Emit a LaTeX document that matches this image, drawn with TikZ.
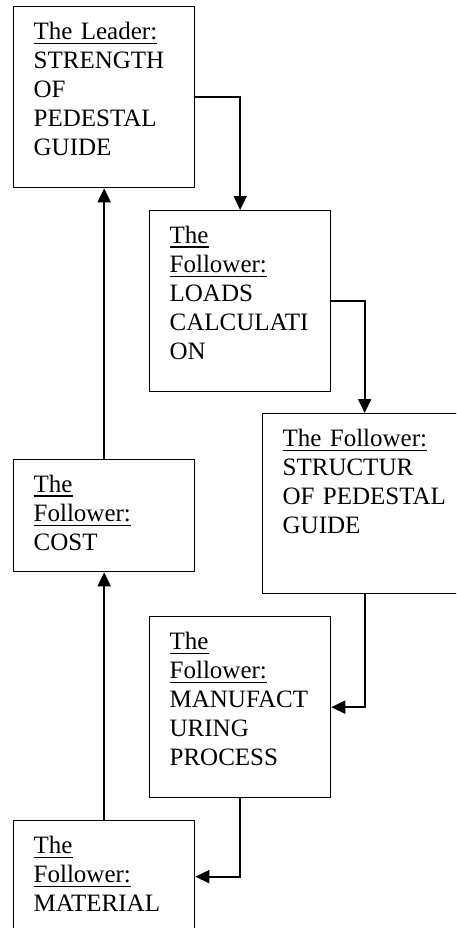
\documentclass[tikz,border=0pt]{standalone}
\usepackage{fontspec}
\setmainfont{Liberation Serif}
\usepackage{tikz}
\usetikzlibrary{arrows.meta}
\newcommand{\undl}[1]{\leavevmode\vtop{\hbox{#1}\kern2.6pt\hrule height 1.5pt}}
\tikzstyle{block} = [rectangle, draw=black, line width=1.3pt, anchor=north west, inner xsep=20pt, inner ysep=0pt, align=left, text height=33pt, font=\fontsize{25}{29}\selectfont]
\tikzstyle{arrow} = [line width=1.9pt, -{Triangle[length=14pt,width=13pt]}]

\begin{document}
\begin{tikzpicture}[x=1pt, y=-1pt]

	\useasboundingbox (0,0) rectangle (456,928);
	\clip (0,0) rectangle (456,928);

	\node (lead) [block, text width=141pt, text depth=148pt] at (13,6) {\undl{The Leader:}\\STRENGTH\\OF\\PEDESTAL\\GUIDE};
	\node (loads) [block, text width=141pt, text depth=148pt] at (149,210) {\undl{The}\\\undl{Follower:}\\LOADS\\CALCULATI\\ON};
	\node (struct) [block, text width=164pt, text depth=147pt] at (262,413) {\undl{The Follower:}\\STRUCTUR\\OF PEDESTAL\\GUIDE};
	\node (cost) [block, text width=141pt, text depth=79pt] at (13,459) {\undl{The}\\\undl{Follower:}\\COST};
	\node (manuf) [block, text width=141pt, text depth=148pt] at (149,616) {\undl{The}\\\undl{Follower:}\\MANUFACT\\URING\\PROCESS};
	\node (mat) [block, text width=141pt, text depth=79pt] at (13,820) {\undl{The}\\\undl{Follower:}\\MATERIAL};

	\draw [arrow] (lead.east) -| (loads.north);
	\draw [arrow] (loads.east) -| (struct.north);
	\draw [arrow] (struct.south) |- (manuf.east);
	\draw [arrow] (manuf.south) |- (mat.east);
	\draw [arrow] (mat.north) -- (cost.south);
	\draw [arrow] (cost.north) -- (lead.south);

\end{tikzpicture}
\end{document}
